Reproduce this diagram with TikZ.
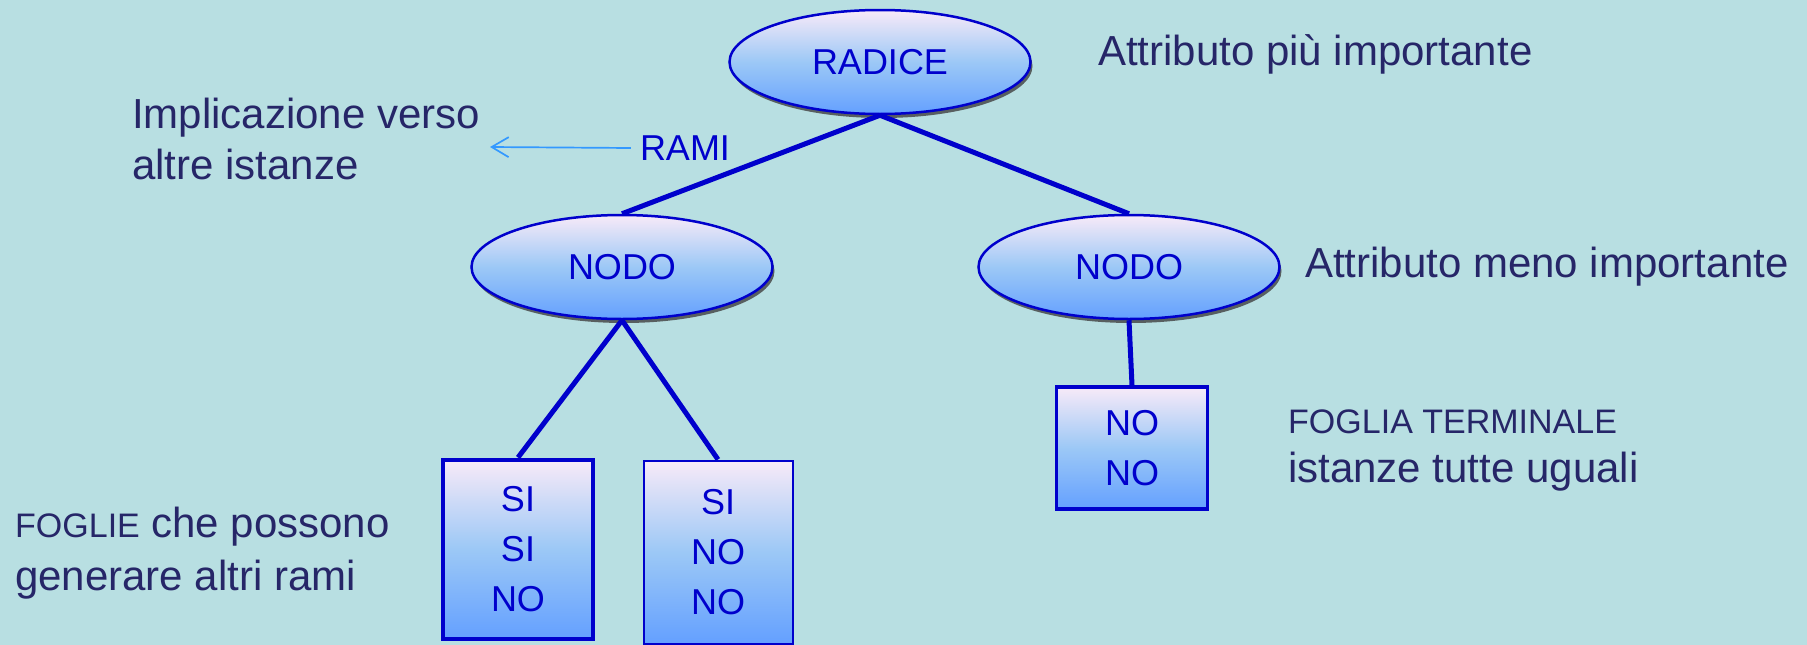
\documentclass[tikz,border=0pt]{standalone}
\usepackage{fontspec}
\setmainfont{Liberation Sans}
\usetikzlibrary{shapes.geometric,shadows,arrows.meta,positioning}

\definecolor{bgcol}{HTML}{B8DFE2}
\definecolor{txtcol}{HTML}{262668}
\definecolor{nodecol}{HTML}{0000CC}
\definecolor{arwcol}{HTML}{3399FF}
\definecolor{shtop}{HTML}{F8EAF8}
\definecolor{shmid}{HTML}{9CC8F6}
\definecolor{shbot}{HTML}{64A0FF}

\newcommand{\bigtxt}{\fontsize{42}{51}\selectfont}
\newcommand{\midtxt}{\fontsize{36}{50}\selectfont}
\newcommand{\smtxt}{\fontsize{34}{41}\selectfont}

\begin{document}
\begin{tikzpicture}[
  x=1pt, y=-1pt,
  enode/.style={ellipse, draw=nodecol, line width=2.5pt, minimum width=301pt, minimum height=104pt, inner sep=0pt,
    top color=shtop, bottom color=shbot, middle color=shmid, text=nodecol, font=\midtxt,
    drop shadow={shadow xshift=2pt, shadow yshift=-4pt, fill=black!75, opacity=0.8}},
  leaf/.style={rectangle, draw=nodecol, top color=shtop, bottom color=shbot, middle color=shmid,
    text=nodecol, font=\midtxt, align=center, inner sep=0pt},
  lbl/.style={text=txtcol, font=\bigtxt, align=left, inner sep=0pt, anchor=base west},
  brn/.style={-, draw=nodecol, line width=5pt},
  arw/.style={-{Straight Barb[length=17pt,width=20pt]}, draw=arwcol, line width=1.7pt}
  ]

\useasboundingbox (0,0) rectangle (1807,645);
\fill [bgcol] (0,0) rectangle (1807,645);

\node [enode] (root) at (880,62) {RADICE};
\node [enode, on grid, below left=205pt and 258pt of root] (nodoL) {NODO};
\node [enode, on grid, below right=205pt and 249pt of root] (nodoR) {NODO};

\node [leaf, line width=4pt, minimum width=150pt, minimum height=179pt, on grid, below left=282pt and 104pt of nodoL] (fgA) {SI\\SI\\NO};
\node [leaf, line width=2pt, minimum width=149pt, minimum height=183pt, on grid, below right=285pt and 96pt of nodoL] (fgB) {SI\\NO\\NO};
\node [leaf, line width=3.5pt, minimum width=151pt, minimum height=122pt, on grid, below right=181pt and 3pt of nodoR] (fgC) {NO\\NO};

\draw [brn] (root.south) -- (nodoL.north);
\draw [brn] (root.south) -- (nodoR.north);
\draw [brn] (nodoL.south) -- (fgA.north);
\draw [brn] (nodoL.south) -- (fgB.north);
\draw [brn] (nodoR.south) -- (fgC.north);

% rami e implicazione
\node [text=nodecol, font=\midtxt, inner xsep=9pt, inner ysep=0pt] (rami) at (685,148) {RAMI};
\coordinate (ramiend) at (490,147);
\draw [arw] (rami.west) -- (ramiend);

% base = ultima riga
\node [lbl] (impl) at (132,179) {Implicazione verso\\altre istanze};
\node [lbl] (attA) at (1098,65) {Attributo più importante};
\node [lbl] (attB) at (1305,277) {Attributo meno importante};
\node [lbl, font=\fontsize{42}{49}\selectfont] (fterm) at (1288,482) {{\smtxt FOGLIA TERMINALE}\\istanze tutte uguali};
\node [lbl, font=\fontsize{42}{53}\selectfont] (fgen) at (15,590) {{\smtxt FOGLIE} che possono\\generare altri rami};

\end{tikzpicture}
\end{document}
